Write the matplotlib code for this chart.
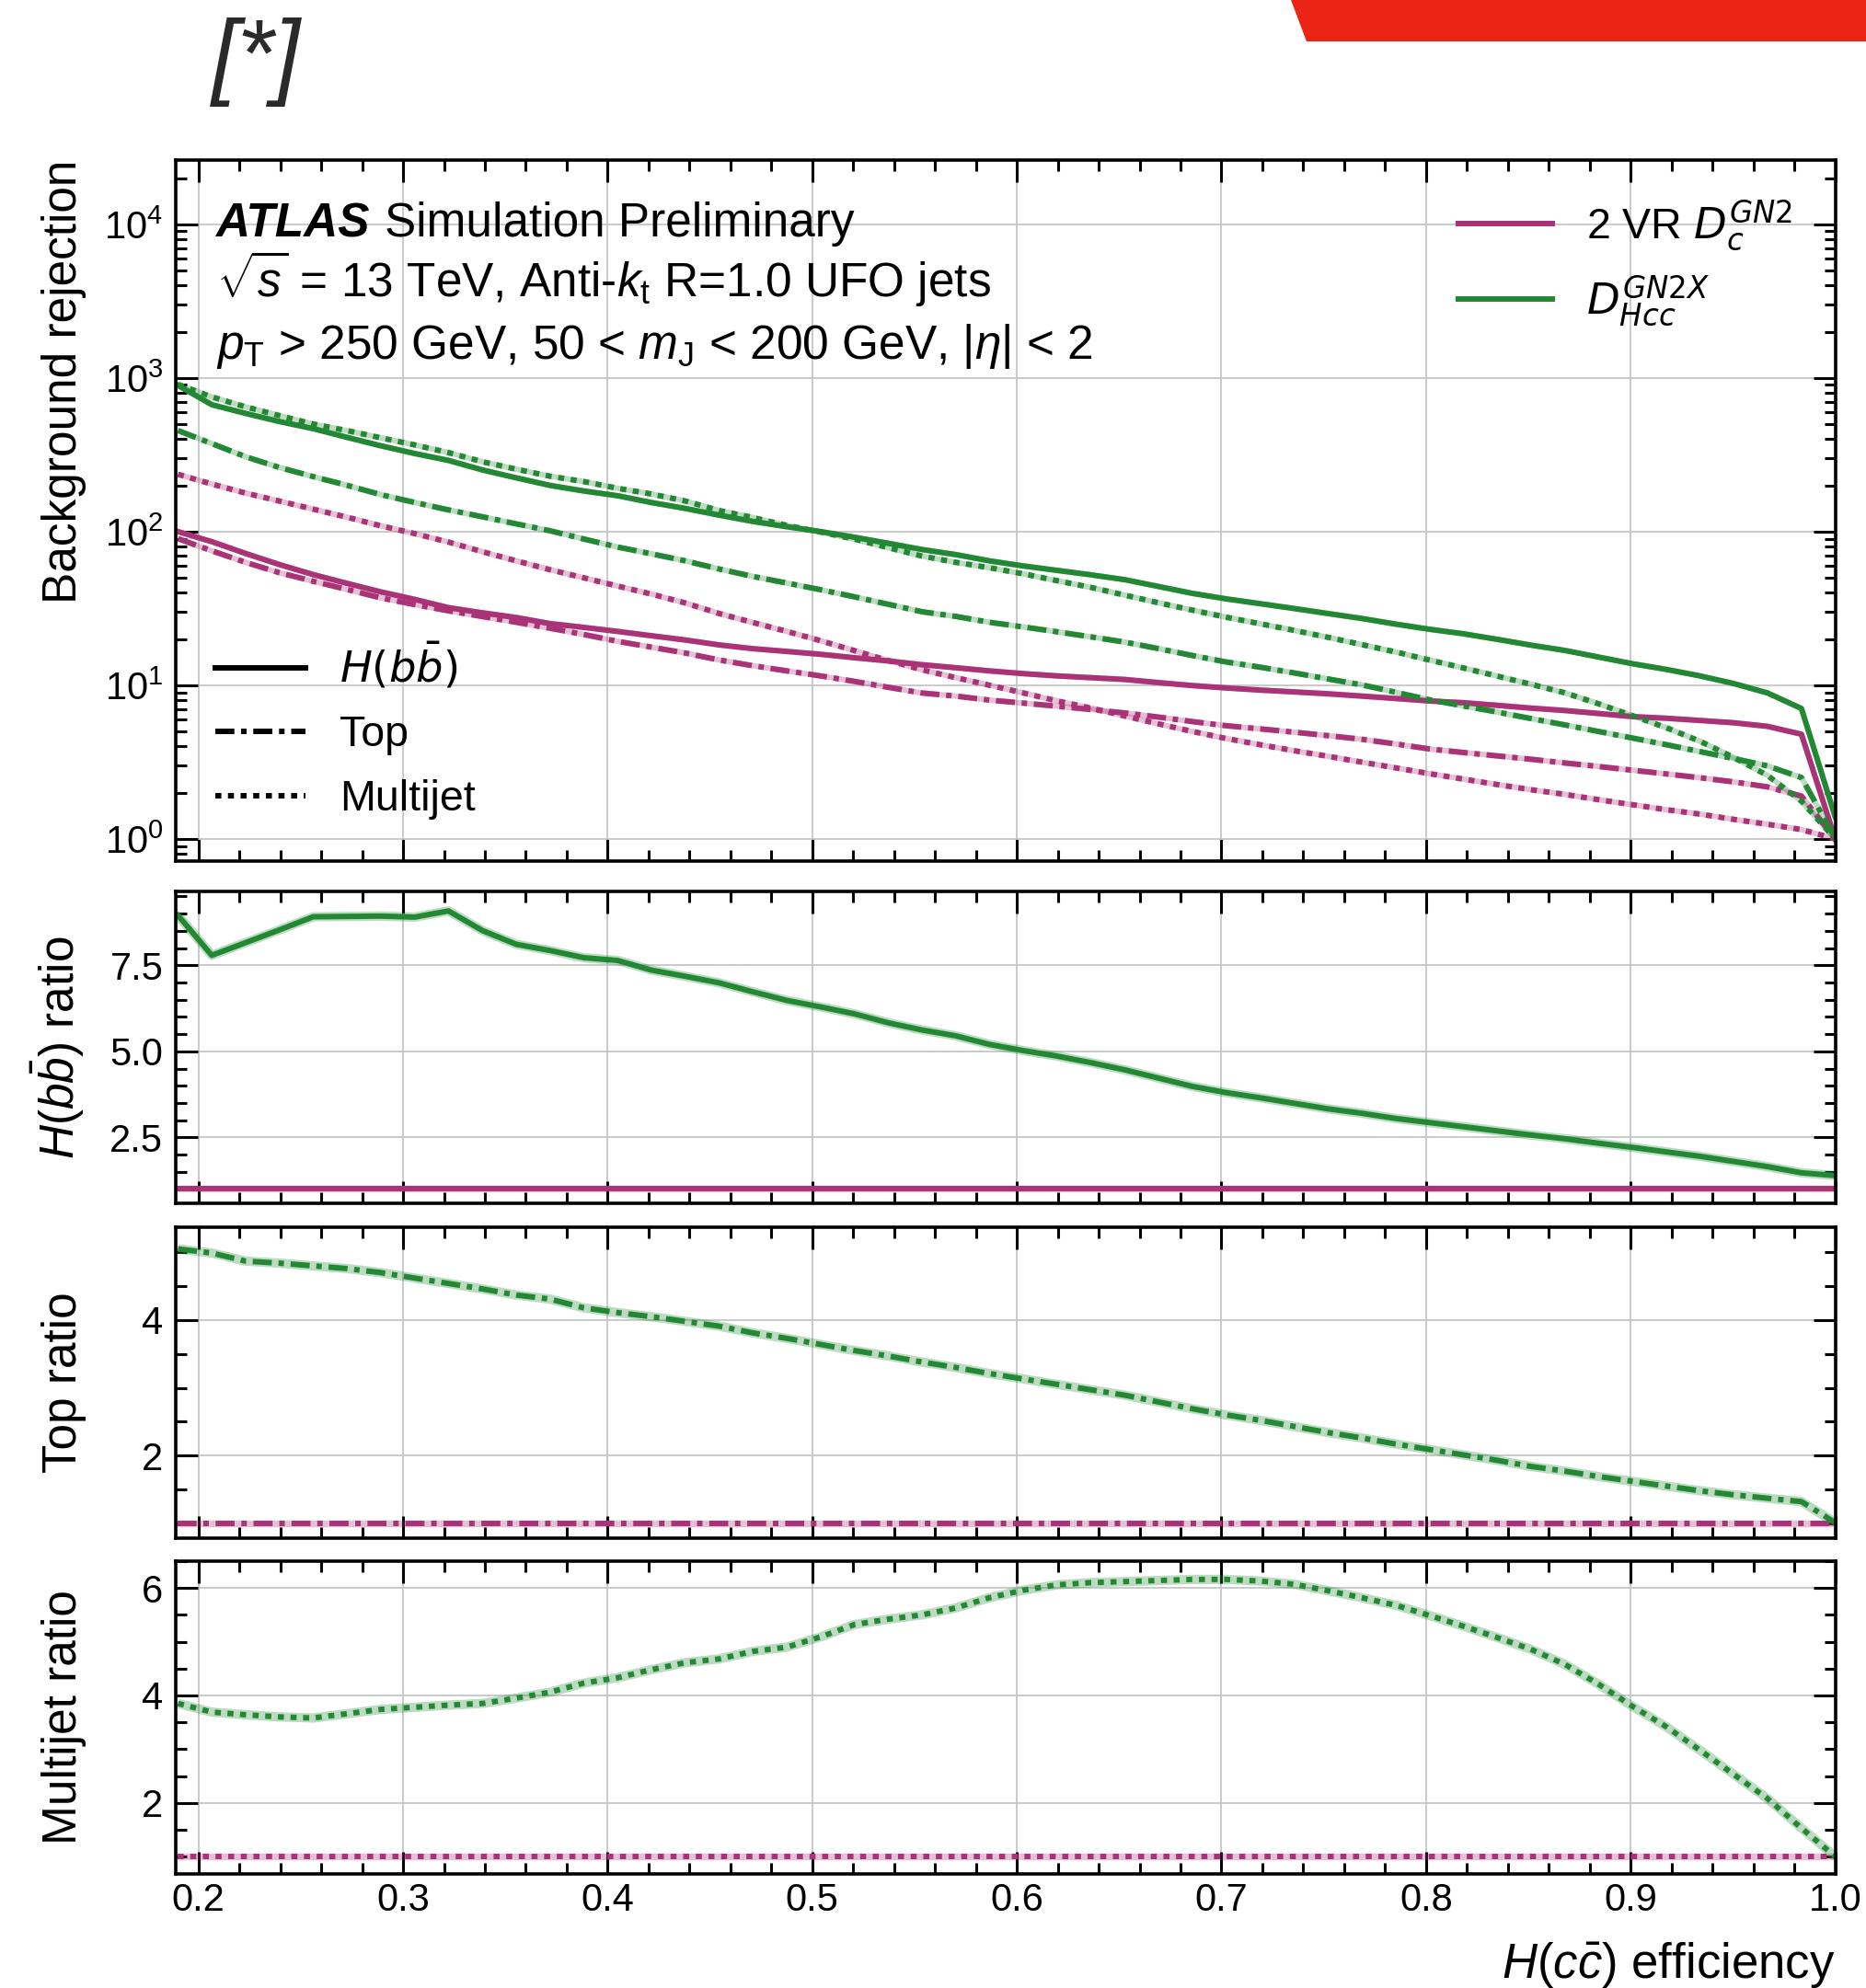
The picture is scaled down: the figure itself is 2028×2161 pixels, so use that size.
import numpy as np
import matplotlib
matplotlib.use("Agg")
import matplotlib.pyplot as plt
from matplotlib.ticker import MultipleLocator
from matplotlib.lines import Line2D
from matplotlib.patches import Polygon
from matplotlib.font_manager import FontProperties

plt.rcParams['font.family'] = ['Liberation Sans', 'DejaVu Sans']
plt.rcParams['mathtext.fontset'] = 'custom'
plt.rcParams['mathtext.rm'] = 'Liberation Sans'
plt.rcParams['mathtext.it'] = 'Liberation Sans:italic'
plt.rcParams['mathtext.bf'] = 'Liberation Sans:bold'

# H(cc) signal efficiency working points
efficiency = [0.1900, 0.2065, 0.2231, 0.2396, 0.2561, 0.2727, 0.2892, 0.3057, 0.3222, 0.3388,
              0.3553, 0.3718, 0.3884, 0.4049, 0.4214, 0.4380, 0.4545, 0.4710, 0.4876, 0.5041,
              0.5206, 0.5371, 0.5537, 0.5702, 0.5867, 0.6033, 0.6198, 0.6363, 0.6529, 0.6694,
              0.6859, 0.7024, 0.7190, 0.7355, 0.7520, 0.7686, 0.7851, 0.8016, 0.8182, 0.8347,
              0.8512, 0.8678, 0.8843, 0.9008, 0.9173, 0.9339, 0.9504, 0.9669, 0.9835, 1.0000]

# background rejection of the 2 VR D_c^GN2 baseline
rej_vr_hbb = [100, 86, 72, 61, 52.5, 46, 40.5, 36.2, 32, 29.6,
              27.6, 25.2, 23.8, 22.4, 21.0, 19.7, 18.3, 17.3, 16.6, 15.9,
              15.1, 14.4, 13.6, 13.0, 12.4, 11.9, 11.5, 11.2, 10.9, 10.4,
              9.95, 9.6, 9.3, 9.05, 8.8, 8.5, 8.2, 7.9, 7.7, 7.4,
              7.1, 6.85, 6.55, 6.25, 6.1, 5.9, 5.7, 5.4, 4.8, 1.0]
rej_vr_top = [90, 75, 63, 54, 47.5, 42, 37, 33.5, 30.5, 28,
              25.7, 23.5, 21.4, 19.3, 17.7, 16.2, 14.6, 13.4, 12.4, 11.5,
              10.6, 9.7, 8.9, 8.5, 8.0, 7.65, 7.3, 6.95, 6.6, 6.2,
              5.8, 5.45, 5.2, 4.95, 4.7, 4.45, 4.15, 3.85, 3.65, 3.47,
              3.3, 3.12, 2.96, 2.8, 2.65, 2.5, 2.35, 2.18, 1.9, 1.0]
rej_vr_multijet = [236, 204, 178, 158, 140, 124, 109, 97, 85.5, 74,
                   64.5, 56.5, 50, 44.2, 39.2, 34.3, 29.3, 25.6, 22.4, 19.5,
                   16.8, 14.5, 12.6, 11.2, 10.0, 8.9, 7.9, 7.1, 6.3, 5.6,
                   5.0, 4.5, 4.1, 3.75, 3.45, 3.16, 2.9, 2.66, 2.45, 2.26,
                   2.09, 1.95, 1.80, 1.67, 1.55, 1.45, 1.34, 1.245, 1.15, 1.0]

# D_Hcc^GN2X rejection divided by the 2 VR rejection
ratio_hbb = [8.95, 7.79, 8.16, 8.53, 8.91, 8.92, 8.93, 8.90, 9.08, 8.51,
             8.11, 7.93, 7.72, 7.64, 7.36, 7.18, 6.99, 6.73, 6.48, 6.29,
             6.09, 5.83, 5.62, 5.45, 5.20, 5.02, 4.86, 4.67, 4.46, 4.22,
             3.98, 3.80, 3.65, 3.49, 3.33, 3.20, 3.05, 2.93, 2.81, 2.69,
             2.57, 2.46, 2.33, 2.21, 2.08, 1.95, 1.80, 1.65, 1.47, 1.39]
ratio_top = [5.05, 4.99, 4.87, 4.84, 4.80, 4.76, 4.70, 4.62, 4.54, 4.46,
             4.37, 4.31, 4.18, 4.11, 4.05, 3.98, 3.91, 3.81, 3.73, 3.64,
             3.55, 3.47, 3.38, 3.30, 3.21, 3.13, 3.05, 2.97, 2.89, 2.79,
             2.69, 2.60, 2.52, 2.43, 2.34, 2.26, 2.17, 2.09, 2.01, 1.93,
             1.84, 1.77, 1.69, 1.62, 1.55, 1.48, 1.42, 1.37, 1.32, 1.01]
ratio_multijet = [3.85, 3.69, 3.64, 3.60, 3.58, 3.66, 3.74, 3.78, 3.82, 3.85,
                  3.95, 4.06, 4.23, 4.33, 4.48, 4.61, 4.68, 4.82, 4.90, 5.09,
                  5.32, 5.42, 5.50, 5.63, 5.82, 5.96, 6.06, 6.10, 6.12, 6.14,
                  6.16, 6.16, 6.13, 6.07, 5.95, 5.82, 5.68, 5.49, 5.29, 5.08,
                  4.86, 4.58, 4.21, 3.80, 3.42, 2.98, 2.53, 2.08, 1.53, 1.00]

backgrounds = ["hbb", "top", "multijet"]
# dash patterns in units of the line width
linestyles = {"hbb": "-",
              "top": (0, (3.47, 1.22, 1.0, 1.22)),
              "multijet": (0, (1.1, 1.2))}
rej_vr = {"hbb": rej_vr_hbb, "top": rej_vr_top, "multijet": rej_vr_multijet}
ratios = {"hbb": ratio_hbb, "top": ratio_top, "multijet": ratio_multijet}

COL_VR = "#AA3377"
COL_GN2X = "#228833"
LW = 4.3
FS_TICK = 30
FS_LABEL = 37
FS_TEXT = 37
FS_LEG = 33.5

eff = np.array(efficiency)

fig = plt.figure(figsize=(20.28, 21.61), dpi=100)
left, width = 0.0943, 0.8892
ax_main = fig.add_axes([left, 0.5669, width, 0.3526])
ax_hbb = fig.add_axes([left, 0.3947, width, 0.1569], sharex=ax_main)
ax_top = fig.add_axes([left, 0.2262, width, 0.1565], sharex=ax_main)
ax_mj = fig.add_axes([left, 0.0572, width, 0.1577], sharex=ax_main)
ratio_axes = {"hbb": ax_hbb, "top": ax_top, "multijet": ax_mj}


def draw_curve(ax, x, y, color, ls, halo_lw):
    # light band underneath, then the styled line
    ax.plot(x, y, color=color, lw=halo_lw, alpha=0.3, solid_capstyle="butt")
    ax.plot(x, y, color=color, lw=LW, ls=ls)


for bkg in backgrounds:
    vr = np.array(rej_vr[bkg])
    gn2x = vr * np.array(ratios[bkg])
    ls = linestyles[bkg]
    draw_curve(ax_main, eff, vr, COL_VR, ls, LW)
    draw_curve(ax_main, eff, gn2x, COL_GN2X, ls, LW)

    rax = ratio_axes[bkg]
    draw_curve(rax, eff, vr / vr, COL_VR, ls, LW + 1)
    draw_curve(rax, eff, gn2x / vr, COL_GN2X, ls, LW + 3)

ax_main.set_yscale("log")
ax_main.set_ylim(0.718, 2.62e4)
ax_hbb.set_ylim(0.583, 9.647)
ax_top.set_ylim(0.778, 5.371)
ax_mj.set_ylim(0.67, 6.507)
ax_main.set_xlim(0.189, 1.0)

ax_hbb.yaxis.set_major_locator(MultipleLocator(2.5))
ax_hbb.yaxis.set_minor_locator(MultipleLocator(0.5))
for rax in (ax_top, ax_mj):
    rax.yaxis.set_major_locator(MultipleLocator(2))
    rax.yaxis.set_minor_locator(MultipleLocator(0.5))

for ax in (ax_main, ax_hbb, ax_top, ax_mj):
    ax.xaxis.set_major_locator(MultipleLocator(0.1))
    ax.xaxis.set_minor_locator(MultipleLocator(0.02))
    ax.tick_params(which="both", direction="in", top=True, right=True,
                   labelsize=FS_TICK, width=2.2)
    ax.tick_params(which="major", length=17)
    ax.tick_params(which="minor", length=8.5)
    ax.tick_params(axis="x", pad=6)
    ax.tick_params(axis="y", pad=10)
    for sp in ax.spines.values():
        sp.set_linewidth(2.6)
    ax.grid(True, which="major", color="#c6c6c6", linewidth=1.3)
    ax.set_axisbelow(True)

for ax in (ax_main, ax_hbb, ax_top):
    ax.tick_params(labelbottom=False)

ax_main.set_ylabel("Background rejection", fontsize=FS_LABEL, loc="top")
ax_hbb.set_ylabel(r"$H(b\bar{b})$ ratio", fontsize=FS_LABEL)
ax_top.set_ylabel("Top ratio", fontsize=FS_LABEL)
ax_mj.set_ylabel("Multijet ratio", fontsize=FS_LABEL)
ax_main.yaxis.set_label_coords(-0.054, 1.0)
for rax in (ax_hbb, ax_top, ax_mj):
    rax.yaxis.set_label_coords(-0.054, 0.5)
ax_mj.set_xlabel(r"$H(c\bar{c})$ efficiency", fontsize=38, loc="right")
ax_mj.xaxis.set_label_coords(1.0, -0.213)

# ATLAS label block
x_txt = 0.024
t_atlas = ax_main.text(x_txt, 0.891, "ATLAS", transform=ax_main.transAxes,
                       fontsize=FS_TEXT, fontweight="bold", fontstyle="italic",
                       va="baseline")
fig.canvas.draw()
bb = t_atlas.get_window_extent()
x_end = ax_main.transAxes.inverted().transform((bb.x1, bb.y0))[0]
ax_main.text(x_end + 0.009, 0.891, "Simulation Preliminary",
             transform=ax_main.transAxes, fontsize=FS_TEXT, va="baseline")
ax_main.text(x_txt, 0.8045,
             r"$\sqrt{s}$ = 13 TeV, Anti-$k_{\mathrm{t}}$ R=1.0 UFO jets",
             transform=ax_main.transAxes, fontsize=FS_TEXT, va="baseline")
ax_main.text(x_txt, 0.7165,
             r"$p_{\mathrm{T}}$ > 250 GeV, 50 < $m_{\mathrm{J}}$ < 200 GeV, $|\eta|$ < 2",
             transform=ax_main.transAxes, fontsize=FS_TEXT, va="baseline")

# tagger legend (colours)
leg_prop = FontProperties(family=["Liberation Sans", "DejaVu Sans"], size=FS_LEG,
                          math_fontfamily="dejavusans")
tagger_handles = [Line2D([], [], color=COL_VR, lw=LW),
                  Line2D([], [], color=COL_GN2X, lw=LW)]
tagger_labels = [r"2 VR $D_{c}^{GN2}$", r"$D_{Hcc}^{GN2X}$"]
leg1 = ax_main.legend(tagger_handles, tagger_labels, loc="upper left",
                      bbox_to_anchor=(0.7729, 0.9455), frameon=False, prop=leg_prop,
                      borderpad=0, borderaxespad=0, handlelength=2.2,
                      handletextpad=0.78, labelspacing=0.5)
ax_main.add_artist(leg1)

# background legend (line styles)
bkg_handles = [Line2D([], [], color="black", lw=LW, ls=linestyles[b]) for b in backgrounds]
bkg_labels = [r"$H(b\bar{b})$", "Top", "Multijet"]
ax_main.legend(bkg_handles, bkg_labels, loc="lower left",
               bbox_to_anchor=(0.0237, 0.059), frameon=False, prop=leg_prop,
               borderpad=0, borderaxespad=0, handlelength=2.1,
               handletextpad=0.8, labelspacing=0.55)

# page decorations
W, H = 2028.0, 2161.0
banner = Polygon([[1403 / W, 1.0], [1.0, 1.0], [1.0, 1 - 45 / H], [1420 / W, 1 - 45 / H]],
                 closed=True, transform=fig.transFigure, facecolor="#ec2415",
                 edgecolor="none")
fig.add_artist(banner)
fig.text(278 / W, 1 - 68 / H, "[*]", ha="center", va="center", fontsize=74,
         fontstyle="italic", color="#2a2a2a")

fig.savefig("out.png", dpi=100)
